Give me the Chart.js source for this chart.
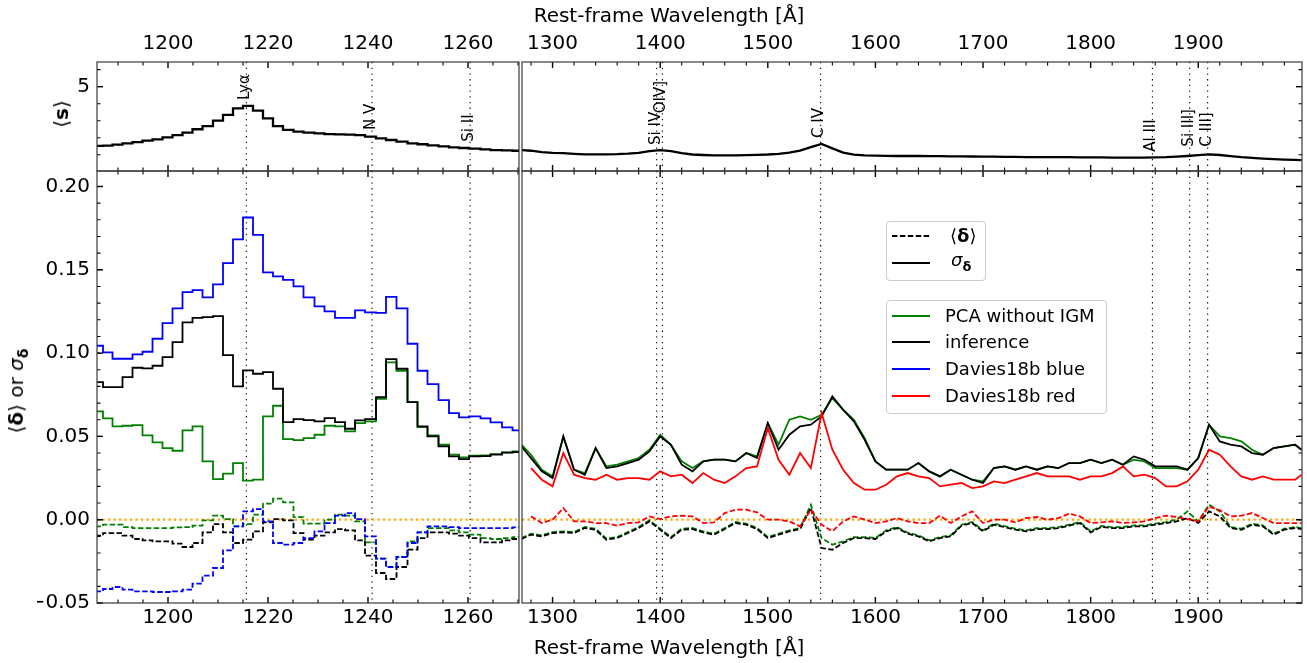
<!DOCTYPE html>
<html lang="en">
<head>
    <meta charset="UTF-8">
    <title>Residual statistics vs rest-frame wavelength</title>
    <script src="https://cdn.jsdelivr.net/npm/chart.js"></script>
    <style>
        body { margin: 0; background: #fff; font-family: 'DejaVu Sans', sans-serif; }
        #wrap { position: relative; width: 1307px; height: 663px; overflow: hidden; }
        canvas { position: absolute; left: 0; top: 0; }
        .txt { position: absolute; white-space: nowrap; color: #000; line-height: 1; }
        .leg { position: absolute; border: 1px solid #ccc; border-radius: 4px; background: rgba(255,255,255,0.8); box-sizing: border-box; }
        .sw { position: absolute; }
    </style>
</head>
<body>
<div id="wrap">
    <canvas id="tl" width="1307" height="663"></canvas>
    <canvas id="tr" width="1307" height="663"></canvas>
    <canvas id="bl" width="1307" height="663"></canvas>
    <canvas id="br" width="1307" height="663"></canvas>

    <div class="txt" style="left:669px;top:15px;transform:translate(-50%,-50%);font-size:20px">Rest-frame Wavelength [Å]</div>
    <div class="txt" style="left:669px;top:647px;transform:translate(-50%,-50%);font-size:20px">Rest-frame Wavelength [Å]</div>
    <div class="txt" style="left:61px;top:114px;transform:translate(-50%,-50%) rotate(-90deg);font-size:20px">⟨<b>s</b>⟩</div>
    <div class="txt" style="left:18px;top:391px;transform:translate(-50%,-50%) rotate(-90deg);font-size:20px">⟨<b>δ</b>⟩ or <i>σ</i><sub style="font-size:14px"><b>δ</b></sub></div>

    <div class="leg" style="left:886px;top:221px;width:100px;height:60px"></div>
    <svg class="sw" style="left:892px;top:233px" width="40" height="6"><line x1="0" y1="3" x2="38" y2="3" stroke="#000" stroke-width="1.8" stroke-dasharray="5.5,2.4"/></svg>
    <div class="txt" style="left:950px;top:236px;transform:translateY(-50%);font-size:18px">⟨<b>δ</b>⟩</div>
    <svg class="sw" style="left:892px;top:260px" width="40" height="6"><line x1="0" y1="3" x2="38" y2="3" stroke="#000" stroke-width="1.8"/></svg>
    <div class="txt" style="left:951px;top:262px;transform:translateY(-50%);font-size:18px"><i>σ</i><sub style="font-size:13px"><b>δ</b></sub></div>

    <div class="leg" style="left:886px;top:300px;width:221px;height:114px"></div>
    <svg class="sw" style="left:892px;top:313px" width="40" height="6"><line x1="0" y1="3" x2="38" y2="3" stroke="#008000" stroke-width="1.8"/></svg>
    <div class="txt" style="left:945px;top:316px;transform:translateY(-50%);font-size:18px">PCA without IGM</div>
    <svg class="sw" style="left:892px;top:339px" width="40" height="6"><line x1="0" y1="3" x2="38" y2="3" stroke="#000" stroke-width="1.8"/></svg>
    <div class="txt" style="left:945px;top:342px;transform:translateY(-50%);font-size:18px">inference</div>
    <svg class="sw" style="left:892px;top:366px" width="40" height="6"><line x1="0" y1="3" x2="38" y2="3" stroke="#0000ff" stroke-width="1.8"/></svg>
    <div class="txt" style="left:945px;top:369px;transform:translateY(-50%);font-size:18px">Davies18b blue</div>
    <svg class="sw" style="left:892px;top:393px" width="40" height="6"><line x1="0" y1="3" x2="38" y2="3" stroke="#ff0000" stroke-width="1.8"/></svg>
    <div class="txt" style="left:945px;top:396px;transform:translateY(-50%);font-size:18px">Davies18b red</div>
</div>
<script>
// ---- blue side (histogram bins, edges in Angstrom) ----
const lamL = [1185.5, 1187.0, 1188.9, 1190.9, 1192.9, 1194.9, 1196.9, 1198.9, 1200.9, 1202.9,
    1204.9, 1206.9, 1209.0, 1211.0, 1213.0, 1215.0, 1217.0, 1219.0, 1221.0, 1223.0,
    1225.1, 1227.1, 1229.3, 1231.3, 1233.4, 1235.4, 1237.4, 1239.4, 1241.6, 1243.6,
    1245.7, 1247.9, 1249.9, 1251.9, 1254.1, 1256.2, 1258.2, 1260.2, 1262.5, 1264.5,
    1266.8, 1268.9, 1270.7];

const sMeanL = [1.52, 1.54, 1.60, 1.67, 1.75, 1.83, 1.91, 2.03, 2.16, 2.30,
    2.50, 2.69, 3.01, 3.34, 3.73, 3.87, 3.59, 3.14, 2.69, 2.46,
    2.36, 2.30, 2.26, 2.22, 2.20, 2.18, 2.16, 2.07, 1.97, 1.87,
    1.77, 1.67, 1.62, 1.56, 1.50, 1.44, 1.40, 1.36, 1.32, 1.28,
    1.26, 1.24];

const sigBlueL = [0.1044, 0.1004, 0.0966, 0.0966, 0.0992, 0.1008, 0.1086, 0.118, 0.1268, 0.1366,
    0.1378, 0.1334, 0.1412, 0.154, 0.1682, 0.1814, 0.171, 0.1484, 0.146, 0.144,
    0.140, 0.1334, 0.128, 0.125, 0.1212, 0.1212, 0.1256, 0.1244, 0.1242, 0.1338,
    0.1268, 0.1056, 0.0894, 0.0814, 0.0718, 0.064, 0.0614, 0.062, 0.0608, 0.0584,
    0.0554, 0.0536];
const sigInfL = [0.0826, 0.0796, 0.0796, 0.0856, 0.0912, 0.0908, 0.0924, 0.0976, 0.1066, 0.1184,
    0.1212, 0.1216, 0.1222, 0.0988, 0.080, 0.0896, 0.0876, 0.0886, 0.0786, 0.0586,
    0.0604, 0.0598, 0.059, 0.061, 0.0586, 0.0546, 0.0596, 0.0604, 0.0736, 0.0964,
    0.0906, 0.0706, 0.056, 0.050, 0.044, 0.038, 0.0364, 0.038, 0.0382, 0.039,
    0.0402, 0.0406];
const sigPcaL = [0.065, 0.0608, 0.056, 0.0564, 0.0568, 0.0506, 0.0464, 0.043, 0.0414, 0.0536,
    0.056, 0.035, 0.0244, 0.0276, 0.034, 0.0234, 0.024, 0.062, 0.0684, 0.0484,
    0.0478, 0.049, 0.051, 0.0564, 0.056, 0.053, 0.058, 0.059, 0.0726, 0.0944,
    0.0894, 0.0706, 0.0556, 0.0506, 0.045, 0.039, 0.0374, 0.0384, 0.0386, 0.0394,
    0.0404, 0.041];

const dBlueL = [-0.043, -0.0416, -0.0404, -0.042, -0.043, -0.043, -0.0434, -0.0434, -0.043, -0.042,
    -0.0384, -0.0336, -0.029, -0.0184, -0.004, 0.005, 0.0064, -0.001, -0.014, -0.015,
    -0.014, -0.011, -0.007, -0.002, 0.0024, 0.004, 0.0004, -0.010, -0.0234, -0.0284,
    -0.0224, -0.014, -0.0076, -0.004, -0.004, -0.0044, -0.005, -0.005, -0.005, -0.005,
    -0.005, -0.0046];
const dInfL = [-0.0096, -0.008, -0.008, -0.0096, -0.0116, -0.0124, -0.013, -0.013, -0.0144, -0.0164,
    -0.014, -0.0076, -0.0026, -0.0076, -0.014, -0.012, -0.007, -0.0016, 0.0004, -0.0004,
    -0.008, -0.012, -0.0096, -0.0076, -0.0056, -0.0064, -0.0124, -0.0216, -0.032, -0.0356,
    -0.0284, -0.018, -0.011, -0.0076, -0.0076, -0.0084, -0.0096, -0.011, -0.0136, -0.0136,
    -0.0124, -0.0116];
const dPcaL = [-0.004, -0.003, -0.003, -0.0044, -0.005, -0.005, -0.005, -0.005, -0.0046, -0.0044,
    -0.0036, -0.0004, 0.0024, 0.0004, -0.004, -0.0026, 0.003, 0.0096, 0.0126, 0.0104,
    0.0016, -0.0024, -0.0024, 0.0, 0.003, 0.0024, -0.001, -0.0136, -0.0234, -0.0284,
    -0.0224, -0.013, -0.0076, -0.005, -0.005, -0.0064, -0.0076, -0.009, -0.011, -0.0116,
    -0.011, -0.0104];

// ---- red side (sampled every 10 Angstrom) ----
const lamR = [1271, 1280, 1290, 1300, 1310, 1320, 1330, 1340, 1350, 1360,
    1370, 1380, 1390, 1400, 1410, 1420, 1430, 1440, 1450, 1460,
    1470, 1480, 1490, 1500, 1510, 1520, 1530, 1540, 1550, 1560,
    1570, 1580, 1590, 1600, 1610, 1620, 1630, 1640, 1650, 1660,
    1670, 1680, 1690, 1700, 1710, 1720, 1730, 1740, 1750, 1760,
    1770, 1780, 1790, 1800, 1810, 1820, 1830, 1840, 1850, 1860,
    1870, 1880, 1890, 1900, 1910, 1920, 1930, 1940, 1950, 1960,
    1970, 1980, 1990, 1996];

const sMeanR = [1.28, 1.24, 1.16, 1.12, 1.10, 1.06, 1.03, 1.03, 1.03, 1.04,
    1.07, 1.12, 1.22, 1.28, 1.22, 1.10, 1.02, 0.99, 0.97, 0.97,
    0.97, 0.98, 1.00, 1.02, 1.06, 1.13, 1.25, 1.45, 1.64, 1.38,
    1.13, 1.01, 0.97, 0.95, 0.94, 0.93, 0.93, 0.93, 0.92, 0.92,
    0.91, 0.91, 0.90, 0.89, 0.89, 0.88, 0.88, 0.87, 0.87, 0.86,
    0.86, 0.86, 0.85, 0.85, 0.85, 0.84, 0.84, 0.84, 0.84, 0.85,
    0.86, 0.89, 0.93, 0.98, 1.03, 0.99, 0.92, 0.86, 0.82, 0.78,
    0.75, 0.72, 0.70, 0.69];

const sigInfR = [0.044, 0.037, 0.029, 0.025, 0.050, 0.030, 0.027, 0.043, 0.031, 0.032,
    0.034, 0.036, 0.041, 0.050, 0.045, 0.033, 0.029, 0.035, 0.036, 0.036,
    0.035, 0.040, 0.037, 0.058, 0.042, 0.051, 0.056, 0.057, 0.062, 0.074,
    0.066, 0.059, 0.048, 0.035, 0.030, 0.030, 0.030, 0.034, 0.029, 0.026,
    0.030, 0.027, 0.024, 0.022, 0.031, 0.032, 0.030, 0.032, 0.030, 0.032,
    0.031, 0.034, 0.034, 0.036, 0.034, 0.036, 0.033, 0.038, 0.036, 0.032,
    0.032, 0.032, 0.030, 0.037, 0.057, 0.047, 0.045, 0.044, 0.040, 0.039,
    0.043, 0.044, 0.045, 0.042];
const sigPcaR = [0.045, 0.039, 0.030, 0.026, 0.050, 0.030, 0.028, 0.043, 0.032, 0.033,
    0.035, 0.037, 0.042, 0.051, 0.045, 0.035, 0.031, 0.035, 0.036, 0.036,
    0.035, 0.040, 0.038, 0.058, 0.045, 0.060, 0.062, 0.060, 0.063, 0.073,
    0.066, 0.060, 0.049, 0.035, 0.030, 0.030, 0.030, 0.034, 0.029, 0.026,
    0.030, 0.027, 0.024, 0.023, 0.031, 0.032, 0.030, 0.032, 0.030, 0.032,
    0.031, 0.034, 0.034, 0.036, 0.034, 0.036, 0.033, 0.036, 0.035, 0.031,
    0.031, 0.031, 0.030, 0.037, 0.057, 0.050, 0.049, 0.047, 0.042, 0.039,
    0.043, 0.044, 0.045, 0.042];
const sigRedR = [null, 0.031, 0.024, 0.020, 0.040, 0.027, 0.025, 0.024, 0.027, 0.024,
    0.025, 0.025, 0.024, 0.029, 0.026, 0.027, 0.022, 0.028, 0.024, 0.022,
    0.026, 0.031, 0.032, 0.055, 0.036, 0.027, 0.040, 0.031, 0.064, 0.042,
    0.030, 0.022, 0.018, 0.018, 0.021, 0.026, 0.028, 0.026, 0.025, 0.020,
    0.021, 0.022, 0.019, 0.020, 0.023, 0.022, 0.024, 0.026, 0.028, 0.026,
    0.026, 0.026, 0.024, 0.026, 0.026, 0.028, 0.032, 0.026, 0.027, 0.025,
    0.020, 0.020, 0.023, 0.030, 0.042, 0.039, 0.032, 0.026, 0.024, 0.026,
    0.024, 0.024, 0.024, 0.027];

const dInfR = [-0.0116, -0.009, -0.010, -0.008, -0.0076, -0.008, -0.005, -0.006, -0.012, -0.011,
    -0.008, -0.005, -0.001, -0.006, -0.011, -0.006, -0.0056, -0.0076, -0.009, -0.0056,
    -0.002, -0.003, -0.0056, -0.011, -0.009, -0.007, -0.0056, 0.007, -0.017, -0.018,
    -0.014, -0.011, -0.011, -0.0116, -0.007, -0.005, -0.0084, -0.010, -0.013, -0.011,
    -0.010, -0.0036, -0.002, -0.007, -0.003, -0.0044, -0.006, -0.007, -0.0056, -0.0056,
    -0.005, -0.0036, -0.002, -0.0076, -0.0044, -0.005, -0.005, -0.004, -0.004, -0.003,
    -0.002, -0.001, 0.001, -0.002, 0.005, 0.002, -0.005, -0.006, -0.003, -0.004,
    -0.009, -0.006, -0.005, -0.0056];
const dPcaR = [-0.011, -0.0084, -0.0094, -0.0074, -0.007, -0.0074, -0.0044, -0.0054, -0.0114, -0.0104,
    -0.0074, -0.0044, -0.0004, -0.0054, -0.0104, -0.0054, -0.005, -0.007, -0.0084, -0.005,
    -0.0014, -0.0024, -0.005, -0.0104, -0.0084, -0.0064, -0.005, 0.009, -0.011, -0.015,
    -0.013, -0.0104, -0.0104, -0.011, -0.0064, -0.0044, -0.0078, -0.0094, -0.0124, -0.0104,
    -0.0094, -0.003, -0.0014, -0.0064, -0.0024, -0.0038, -0.0054, -0.0064, -0.005, -0.005,
    -0.0044, -0.003, -0.0014, -0.007, -0.0038, -0.0044, -0.0044, -0.0034, -0.0034, -0.0024,
    -0.0014, 0.0, 0.005, -0.001, 0.009, 0.005, -0.0044, -0.0054, -0.0024, -0.0034,
    -0.0084, -0.0054, -0.0044, -0.005];
const dRedR = [null, 0.002, -0.002, 0.000, 0.007, -0.001, -0.001, -0.002, -0.002, -0.0036,
    -0.002, -0.0016, 0.002, 0.0004, 0.002, 0.0024, 0.002, -0.002, -0.0016, 0.004,
    0.006, 0.006, 0.0044, 0.000, 0.000, -0.001, -0.004, 0.006, -0.003, -0.007,
    -0.001, 0.002, 0.000, -0.002, -0.001, 0.001, -0.001, -0.002, -0.002, 0.0024,
    -0.002, 0.002, 0.005, -0.002, 0.000, 0.000, -0.0016, 0.001, 0.0016, 0.000,
    0.001, 0.0036, 0.002, -0.002, -0.0016, -0.001, -0.002, -0.0016, -0.001, 0.001,
    0.0024, 0.0016, 0.0004, -0.001, 0.008, 0.0056, 0.002, 0.0024, 0.004, 0.001,
    -0.002, -0.002, -0.002, -0.002];

// ---- axes and line markers ----
const xTicksL = [1200, 1220, 1240, 1260];
const xTicksR = [1300, 1400, 1500, 1600, 1700, 1800, 1900];
const yTicksS = [5];
const yTicksD = [-0.05, 0, 0.05, 0.1, 0.15, 0.2];

const emLines = [
    { t: 'Lyα', w: 1215.67, y: 4.22 },
    { t: 'N V', w: 1240.81, y: 2.46 },
    { t: 'Si II', w: 1260.42, y: 1.77 },
    { t: 'Si IV', w: 1396.76, y: 1.58 },
    { t: 'OIV]', w: 1402.06, y: 3.44 },
    { t: 'C IV', w: 1549.06, y: 1.99 },
    { t: 'Al III', w: 1857.40, y: 1.18 },
    { t: 'Si III]', w: 1892.03, y: 1.48 },
    { t: 'C III]', w: 1908.73, y: 1.48 }
];

const XL = [1185.8, 1270.2], XR = [1271.6, 1996.4];
const YS = [0.05, 6.45], YD = [-0.05, 0.2093];

function range(a, b, s) { const r = []; for (let v = a; v <= b + 1e-9; v += s) r.push(+v.toFixed(4)); return r; }

const framePlugin = {
    id: 'frame',
    beforeDatasetsDraw(chart, args, o) {
        const { ctx, chartArea: a, scales: { x, y } } = chart;
        ctx.save();
        ctx.strokeStyle = '#000';
        ctx.lineWidth = 1.1;
        ctx.setLineDash([1.3, 4.4]);
        o.vlines.forEach(w => {
            const px = x.getPixelForValue(w);
            ctx.beginPath(); ctx.moveTo(px, a.top); ctx.lineTo(px, a.bottom); ctx.stroke();
        });
        ctx.setLineDash([]);
        ctx.fillStyle = '#000';
        ctx.font = '15px "DejaVu Sans"';
        ctx.textAlign = 'left';
        ctx.textBaseline = 'middle';
        (o.labels || []).forEach(l => {
            ctx.save();
            ctx.translate(x.getPixelForValue(l.w) - 1, y.getPixelForValue(l.y));
            ctx.rotate(-Math.PI / 2);
            ctx.fillText(l.t, 0, 0);
            ctx.restore();
        });
        ctx.restore();
    },
    afterDatasetsDraw(chart, args, o) {
        const { ctx, chartArea: a, scales: { x, y } } = chart;
        ctx.save();
        ctx.strokeStyle = '#000';
        const draw = (list, len, lw) => {
            ctx.lineWidth = lw;
            ctx.beginPath();
            list.forEach(v => {
                if (v < x.min || v > x.max) return;
                const px = x.getPixelForValue(v);
                ctx.moveTo(px, a.top); ctx.lineTo(px, a.top + len);
                ctx.moveTo(px, a.bottom); ctx.lineTo(px, a.bottom - len);
            });
            ctx.stroke();
        };
        const drawY = (list, len, lw) => {
            ctx.lineWidth = lw;
            ctx.beginPath();
            list.forEach(v => {
                if (v < y.min || v > y.max) return;
                const py = y.getPixelForValue(v);
                if (o.ySide === 'left') { ctx.moveTo(a.left, py); ctx.lineTo(a.left + len, py); }
                else { ctx.moveTo(a.right, py); ctx.lineTo(a.right - len, py); }
            });
            ctx.stroke();
        };
        draw(o.xMinor, 3.5, 1.1);
        draw(o.xMajor, 6, 1.4);
        drawY(o.yMinor, 3.5, 1.1);
        drawY(o.yMajor, 6, 1.4);
        ctx.strokeStyle = '#3a3a3a';
        ctx.lineWidth = 1.2;
        ctx.strokeRect(a.left, a.top, a.right - a.left, a.bottom - a.top);
        ctx.restore();
    }
};

const pts = (xs, ys) => ys.map((v, i) => ({ x: xs[i], y: v }));
const stepPts = (edges, vals) => edges.map((e, i) => ({ x: e, y: vals[Math.min(i, vals.length - 1)] }));

function ds(data, color, dashed, stepped, width) {
    return {
        data, borderColor: color, borderWidth: width || 1.8, borderDash: dashed ? [5.5, 2.4] : [],
        pointRadius: 0, fill: false, tension: 0, stepped: stepped ? true : false, spanGaps: false
    };
}
function zeroLine(lim) {
    return {
        data: [{ x: lim[0], y: 0 }, { x: lim[1], y: 0 }], borderColor: '#ffa500', borderWidth: 2.2,
        borderDash: [2.2, 3.3], pointRadius: 0, fill: false
    };
}

const font = { family: 'DejaVu Sans', size: 20 };

function xAxis(lim, ticks, pos) {
    return {
        type: 'linear', position: pos, min: lim[0], max: lim[1],
        afterBuildTicks: s => { s.ticks = ticks.map(v => ({ value: v })); },
        afterFit: s => { s.height = 40; },
        ticks: { color: '#000', font, padding: pos === 'top' ? 6 : 3, maxRotation: 0, autoSkip: false, callback: v => String(v) },
        grid: { display: false, drawTicks: false }, border: { display: false }
    };
}
function yAxis(lim, ticks, show, fmt) {
    if (!show) return { type: 'linear', min: lim[0], max: lim[1], display: false };
    return {
        type: 'linear', position: 'left', min: lim[0], max: lim[1],
        afterBuildTicks: s => { s.ticks = ticks.map(v => ({ value: v })); },
        afterFit: s => { s.width = 60; },
        ticks: { color: '#000', font, padding: 7, callback: fmt },
        grid: { display: false, drawTicks: false }, border: { display: false }
    };
}

function make(id, datasets, xs, ys, pad, frame) {
    new Chart(document.getElementById(id), {
        type: 'line',
        data: { datasets },
        options: {
            responsive: false, animation: false, events: [],
            layout: { padding: pad, autoPadding: false },
            plugins: { legend: { display: false }, tooltip: { enabled: false }, frame },
            scales: { x: xs, y: ys }
        },
        plugins: [framePlugin]
    });
}

const fmtD = v => (v < 0 ? '\u2212' : '') + Math.abs(v).toFixed(2);
const linesL = emLines.filter(l => l.w < 1270), linesR = emLines.filter(l => l.w > 1270);
const xMinL = range(1190, 1270, 5).filter(v => !xTicksL.includes(v));
const xMinR = range(1280, 1980, 20).filter(v => !xTicksR.includes(v));
const yMinS = [1, 2, 3, 4, 6];
const yMinD = range(-0.05, 0.2, 0.01);

// top-left: mean continuum
make('tl', [
    ds(stepPts(lamL, sMeanL), '#000', false, true, 2.3)
], xAxis(XL, xTicksL, 'top'), yAxis(YS, yTicksS, true, v => String(v)),
    { left: 37, right: 788, top: 22, bottom: 492 },
    { vlines: linesL.map(l => l.w), labels: linesL, xMajor: xTicksL, xMinor: xMinL, yMajor: yTicksS, yMinor: yMinS, ySide: 'left' });

// top-right
make('tr', [
    ds(pts(lamR, sMeanR), '#000', false, false, 2.3)
], xAxis(XR, xTicksR, 'top'), yAxis(YS, yTicksS, false),
    { left: 522, right: 5, top: 22, bottom: 492 },
    { vlines: linesR.map(l => l.w), labels: linesR, xMajor: xTicksR, xMinor: xMinR, yMajor: yTicksS, yMinor: yMinS, ySide: 'right' });

// bottom-left: mean and scatter of residuals
make('bl', [
    ds(stepPts(lamL, sigBlueL), '#0000ff', false, true),
    ds(stepPts(lamL, sigInfL), '#000', false, true),
    ds(stepPts(lamL, sigPcaL), '#008000', false, true),
    ds(stepPts(lamL, dBlueL), '#0000ff', true, true),
    ds(stepPts(lamL, dInfL), '#000', true, true),
    ds(stepPts(lamL, dPcaL), '#008000', true, true),
    zeroLine(XL)
], xAxis(XL, xTicksL, 'bottom'), yAxis(YD, yTicksD, true, fmtD),
    { left: 37, right: 788, top: 171, bottom: 20 },
    { vlines: linesL.map(l => l.w), xMajor: xTicksL, xMinor: xMinL, yMajor: yTicksD, yMinor: yMinD, ySide: 'left' });

// bottom-right
make('br', [
    ds(pts(lamR, sigRedR), '#ff0000', false, false),
    ds(pts(lamR, sigInfR), '#000', false, false),
    ds(pts(lamR, sigPcaR), '#008000', false, false),
    ds(pts(lamR, dRedR), '#ff0000', true, false),
    ds(pts(lamR, dInfR), '#000', true, false),
    ds(pts(lamR, dPcaR), '#008000', true, false),
    zeroLine(XR)
], xAxis(XR, xTicksR, 'bottom'), yAxis(YD, yTicksD, false),
    { left: 522, right: 5, top: 171, bottom: 20 },
    { vlines: linesR.map(l => l.w), xMajor: xTicksR, xMinor: xMinR, yMajor: yTicksD, yMinor: yMinD, ySide: 'right' });
</script>
</body>
</html>
